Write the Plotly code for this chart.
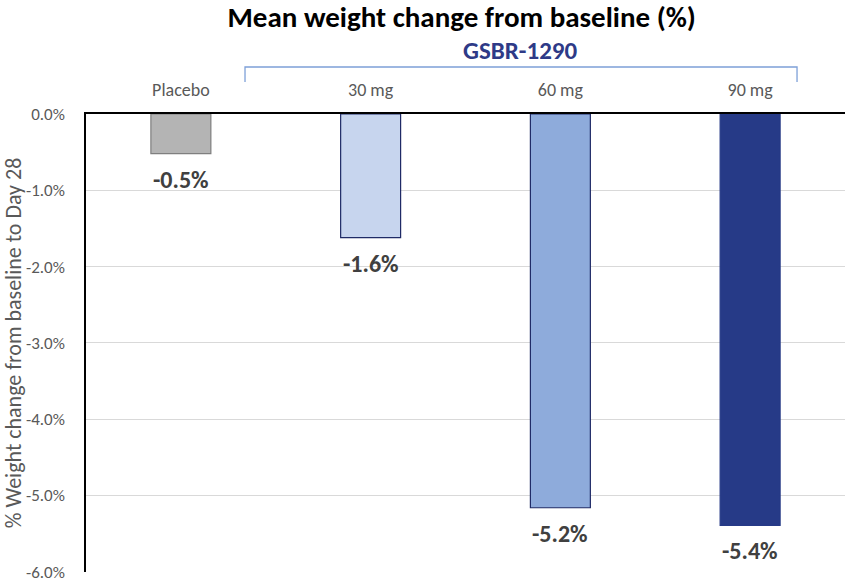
import plotly.graph_objects as go

categories = ["Placebo", "30 mg", "60 mg", "90 mg"]
values = [-0.52, -1.62, -5.16, -5.39]
value_labels = ["-0.5%", "-1.6%", "-5.2%", "-5.4%"]
fill_colors = ["#b4b4b4", "#c7d5ee", "#8eabdb", "#263a87"]
line_colors = ["#7f7f7f", "#1f2a66", "#1f2a66", "#263a87"]
y_ticks = [0, -1, -2, -3, -4, -5, -6]
y_tick_labels = ["0.0%", "-1.0%", "-2.0%", "-3.0%", "-4.0%", "-5.0%", "-6.0%"]

FONT = "Calibri, Carlito, 'Open Sans', sans-serif"

fig = go.Figure()
fig.add_trace(go.Bar(
    x=categories, y=values, width=0.316,
    marker=dict(color=fill_colors, line=dict(color=line_colors, width=1.2)),
    hoverinfo="skip",
))

for c, v, t in zip(categories, values, value_labels):
    fig.add_annotation(x=c, y=v, xref="x", yref="y", text="<b>%s</b>" % t,
                       showarrow=False, yanchor="top", yshift=-9,
                       font=dict(family=FONT, size=24, color="#404040"))

# GSBR-1290 label and bracket
fig.add_annotation(x=0.573, y=1.139, xref="paper", yref="paper",
                   text="<b>GSBR-1290</b>", showarrow=False,
                   yanchor="middle", xanchor="center",
                   font=dict(family=FONT, size=25, color="#2e3a87"))
fig.add_shape(type="path", xref="paper", yref="paper",
              path="M 0.2095,1.0699 L 0.2095,1.1026 L 0.9368,1.1026 L 0.9368,1.0699",
              line=dict(color="#7ea0d8", width=1.3))

fig.update_layout(
    width=845, height=578,
    margin=dict(l=86, r=0, t=114, b=6, autoexpand=False),
    paper_bgcolor="white", plot_bgcolor="white",
    showlegend=False,
    title=dict(text="<b>Mean weight change from baseline (%)</b>",
               x=0.495, xref="paper", xanchor="center",
               y=0.971, yref="container", yanchor="middle",
               font=dict(family=FONT, size=29, color="#000000")),
    xaxis=dict(side="top", range=[-0.5, 3.5], showgrid=False,
               showline=True, linecolor="#000000", linewidth=1.5,
               ticks="", ticklabelstandoff=9, automargin=False,
               tickfont=dict(family=FONT, size=18, color="#595959"),
               zeroline=False),
    yaxis=dict(range=[-6.002, 0], tickvals=y_ticks, ticktext=y_tick_labels,
               showgrid=True, gridcolor="#d9d9d9", gridwidth=1.2,
               showline=True, linecolor="#000000", linewidth=1.5,
               zeroline=False, ticks="", ticklabelstandoff=16,
               ticklabeloverflow="allow", automargin=False,
               tickfont=dict(family=FONT, size=17, color="#595959"),
               title=dict(text="% Weight change from baseline to Day 28",
                          standoff=4,
                          font=dict(family=FONT, size=22, color="#595959"))),
)

fig.write_html("out.html", config={"displayModeBar": False},
               post_script="document.body.style.margin='0';")
